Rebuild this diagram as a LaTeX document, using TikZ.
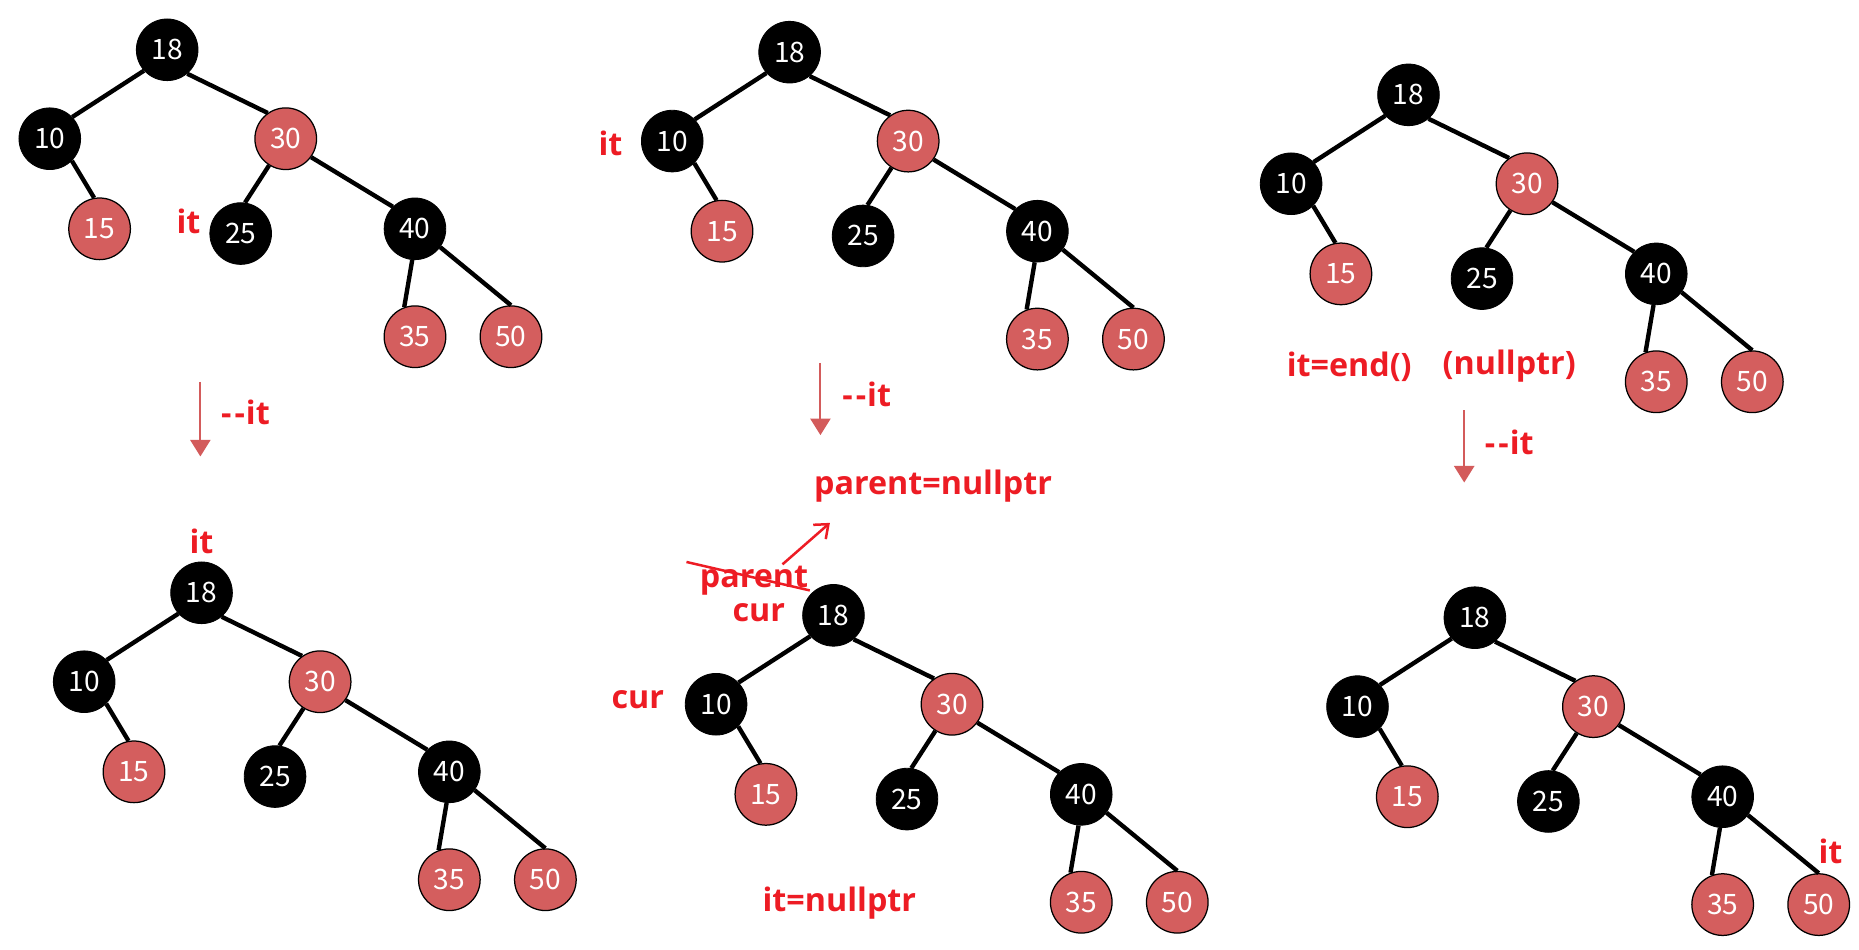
\documentclass[tikz,border=0pt]{standalone}
\usepackage{fontspec}
\setmainfont{Open Sans}
\newfontfamily\numfont{Noto Sans CJK SC}
\usetikzlibrary{arrows.meta}

\definecolor{nodered}{RGB}{212,94,94}
\definecolor{labelred}{RGB}{237,28,36}
\definecolor{arrowred}{RGB}{211,91,91}

\begin{document}
\begin{tikzpicture}[x=0.02cm, y=-0.02cm,
  rbnode/.style={circle, minimum size=1.04cm, inner sep=0pt, text=white,
    font=\numfont\fontsize{13.5}{15}\selectfont},
  blacknode/.style={rbnode, fill=black, draw=black},
  rednode/.style={rbnode, fill=nodered, draw=black, line width=0.6pt},
  link/.style={line width=2.1pt},
  lbl/.style={text=labelred, inner sep=0pt, font=\bfseries\fontsize{15.5}{18}\selectfont},
  stepdown/.style={arrowred, line width=1pt, -{Triangle[width=0.34cm,length=0.28cm]}}]
  \useasboundingbox (0,0) rectangle (1568,801);

  % --- the same tree, six times ---
  \foreach \t/\rx/\ry in {a/141/42, b/666/44, c/1188/80, d/170/500, e/703/519, f/1244/521} {
    \begin{scope}[shift={(\rx,\ry)}]
      \node[blacknode] (\t18) at (0,0) {18};
      \node[blacknode] (\t10) at (-99,75) {10};
      \node[rednode] (\t30) at (100,75) {30};
      \node[rednode] (\t15) at (-57,151) {15};
      \node[blacknode] (\t25) at (62,155) {25};
      \node[blacknode] (\t40) at (209,151) {40};
      \node[rednode] (\t35) at (209,242) {35};
      \node[rednode] (\t50) at (290,242) {50};
      \draw[link] (\t18.222) -- (\t10.44);
      \draw[link] (\t18.-50) -- (\t30.125);
      \draw[link] (\t10.-45) -- (\t15.100);
      \draw[link] (\t30.238) -- (\t25.82);
      \draw[link] (\t30.-36) -- (\t40.135);
      \draw[link] (\t40.265) -- (\t35.110);
      \draw[link] (\t40.-36) -- (\t50.90);
    \end{scope}
  }

  % --- where it points ---
  \node[lbl] (itA) at (159,187) {it};
  \node[lbl] (itB) at (515,121) {it};
  \node[lbl] (itC) at (1138,309) {it=end()};
  \node[lbl] (nullC) at (1273,309) {(nullptr)};
  \node[lbl] (itD) at (170,457) {it};
  \node[lbl] (itF) at (1544,718) {it};

  % --- steps ---
  \coordinate (s1) at (169,322); \coordinate (e1) at (169,385);
  \coordinate (s2) at (692,306); \coordinate (e2) at (692,367);
  \coordinate (s3) at (1235,346); \coordinate (e3) at (1235,407);
  \draw[stepdown] (s1) -- (e1);
  \draw[stepdown] (s2) -- (e2);
  \draw[stepdown] (s3) -- (e3);
  \node[lbl] (decA) at (207,348) {-\kern1.5pt-\kern0.5pt it};
  \node[lbl] (decB) at (731,333) {-\kern1.5pt-\kern0.5pt it};
  \node[lbl] (decC) at (1273,373) {-\kern1.5pt-\kern0.5pt it};

  % --- walking up from cur ---
  \node[lbl] (parnull) at (787,410) {parent=nullptr};
  \node[lbl] (parE) at (636,490) {parent};
  \node[lbl] (curE) at (640,517) {cur};
  \node[lbl] (curL) at (538,590) {cur};
  \node[lbl] (itE) at (708,762) {it=nullptr};
  \coordinate (x1) at (579,474); \coordinate (x2) at (683,498);
  \draw[labelred, line width=1.2pt] (x1) -- (x2);
  \coordinate (p1) at (660,476); \coordinate (p2) at (700,441);
  \draw[labelred, line width=1.2pt, -{Straight Barb[length=2mm,width=3.2mm]}] (p1) -- (p2);
\end{tikzpicture}
\end{document}
